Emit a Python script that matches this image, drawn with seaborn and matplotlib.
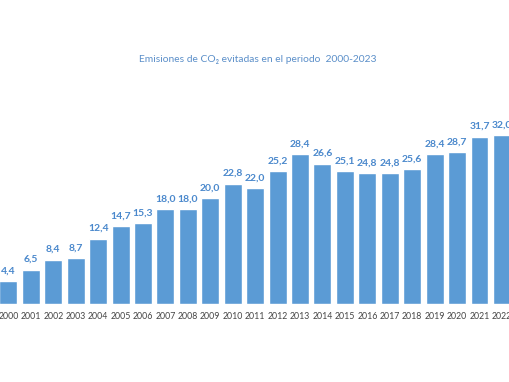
import matplotlib
matplotlib.use("Agg")
import matplotlib.pyplot as plt
import seaborn as sns
import pandas as pd

# Emisiones de CO2 evitadas
years = [str(y) for y in range(2000, 2023)]
values = [4.4, 6.5, 8.4, 8.7, 12.4, 14.7, 15.3, 18.0, 18.0, 20.0, 22.8, 22.0,
          25.2, 28.4, 26.6, 25.1, 24.8, 24.8, 25.6, 28.4, 28.7, 31.7, 32.0]
title = "Emisiones de CO\u2082 evitadas en el periodo  2000-2023"

bar_color = "#5b9bd5"
label_color = "#4a88cc"

sns.set_theme(style="white")
plt.rcParams['font.family'] = ['Lato', 'DejaVu Sans']

df = pd.DataFrame({'year': years, 'value': values})

fig = plt.figure(figsize=(5.1, 3.82), dpi=100)
ax = fig.add_axes([0, 0.2042, 1, 0.553])

sns.barplot(data=df, x='year', y='value', color=bar_color, saturation=1,
            width=0.8, ax=ax)

labels = [f"{v:.1f}".replace('.', ',') for v in values]
ax.bar_label(ax.containers[0], labels=labels, padding=4, color=label_color,
             fontsize=7.5, fontweight='bold')

ax.set_xlim(-0.375, 22.36)
ax.set_ylim(0, 40)
ax.set_xlabel('')
ax.set_ylabel('')
ax.set_yticks([])
ax.tick_params(axis='x', length=0, pad=6, labelsize=6.3, labelcolor='#444444')
sns.despine(ax=ax, left=True, bottom=True)

fig.text(0.505, 0.843, title, ha='center', va='center', fontsize=7.4,
         color='#5b8fc9')

fig.savefig('out.png', dpi=100)
